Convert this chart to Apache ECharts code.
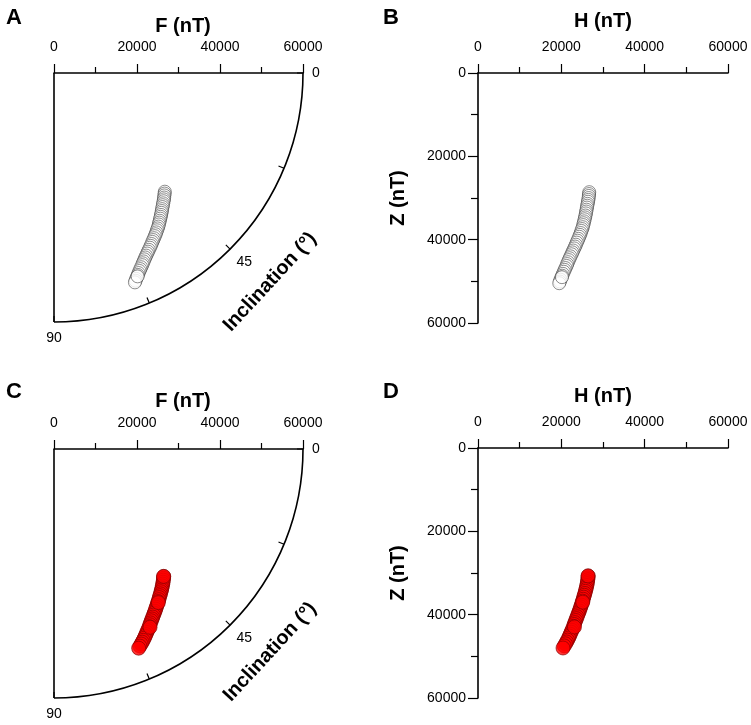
<!DOCTYPE html>
<html>
<head>
<meta charset="utf-8">
<script src="https://cdn.jsdelivr.net/npm/echarts@6/dist/echarts.min.js"></script>
<style>
  html, body { margin: 0; padding: 0; background: #fff; }
  #fieldChart { width: 751px; height: 725px; }
</style>
</head>
<body>
<div id="fieldChart"></div>
<script>
// H / Z components (nT), upper panels (white markers)
var hWhite = [26700, 26650, 26600, 26550, 26480, 26420, 26300, 26230, 26150, 26050, 25980, 25900, 25800, 25700, 25600, 25480, 25370, 25260, 25150, 24980, 24820, 24650, 24480, 24300, 24100, 23900, 23700, 23500, 23300, 23100, 22850, 22650, 22450, 22200, 22000, 21800, 21600, 21400, 21250, 21000, 20800, 20600, 20380, 20200, 20000, 19800, 19650, 19500, 20150];
var zWhite = [28600, 29050, 29500, 30000, 30450, 30900, 31400, 31850, 32300, 32800, 33250, 33700, 34200, 34650, 35100, 35600, 36050, 36500, 37000, 37450, 37900, 38400, 38850, 39300, 39800, 40250, 40700, 41200, 41650, 42100, 42600, 43050, 43500, 44000, 44450, 44900, 45400, 45850, 46300, 46800, 47250, 47700, 48200, 48650, 49100, 49600, 50050, 50450, 49000];
// lower panels (red markers)
var hRed = [26450, 26400, 26350, 26280, 26200, 26120, 26000, 25900, 25780, 25650, 25520, 25380, 25250, 25100, 24950, 24800, 24650, 24500, 24330, 24150, 23980, 23800, 23620, 23450, 23250, 23100, 22950, 22750, 22550, 22350, 22150, 21950, 21750, 21500, 21250, 21000, 20700, 20400, 23150, 25150, 26400];
var zRed = [30700, 31150, 31600, 32100, 32550, 33000, 33500, 33950, 34400, 34900, 35350, 35800, 36300, 36750, 37200, 37700, 38150, 38600, 39100, 39550, 40000, 40500, 40950, 41400, 41900, 42350, 42800, 43300, 43750, 44200, 44700, 45150, 45600, 46100, 46550, 47000, 47500, 48000, 42950, 37000, 30700];

var fieldMax = 60000;
var fieldStep = 20000;
var inclMax = 90;
var inclStep = 22.5;
var panelLetters = ["A", "B", "C", "D"];

// F / inclination pairs for the polar panels: [F, I]
function toPolar(h, z) {
  return h.map(function (v, i) {
    return [Math.sqrt(v * v + z[i] * z[i]), Math.atan2(z[i], v) * 180 / Math.PI];
  });
}
function toXY(h, z) {
  return h.map(function (v, i) { return [v, z[i]]; });
}

var font = "Liberation Sans";
var whiteMarker = { color: "#fff", borderColor: "#333", borderWidth: 0.7 };
var redMarker = { color: "#ff0000", borderColor: "#7a0000", borderWidth: 0.8 };
var plain = function (v) { return String(v); };

function angleAxis(idx) {
  return {
    polarIndex: idx,
    type: "value",
    min: 0,
    max: inclMax,
    interval: inclStep,
    startAngle: 0,
    endAngle: -90,
    clockwise: true,
    axisLine: { lineStyle: { color: "#000", width: 1.6 } },
    axisTick: { inside: true, length: 6, lineStyle: { color: "#000", width: 1.2 } },
    axisLabel: {
      margin: 9,
      color: "#000",
      fontFamily: font,
      fontSize: 14,
      formatter: function (v) { return v % 45 === 0 ? String(v) : ""; }
    },
    // only the 90 deg radial line is drawn (left border of the sector)
    splitLine: { show: true, lineStyle: { width: 1.6, color: ["rgba(0,0,0,0)", "rgba(0,0,0,0)", "rgba(0,0,0,0)", "rgba(0,0,0,0)", "#000"] } }
  };
}
function radiusAxis(idx) {
  return {
    polarIndex: idx,
    type: "value",
    min: 0,
    max: fieldMax,
    interval: fieldStep,
    axisLine: { lineStyle: { color: "#000", width: 1.6 } },
    axisTick: { length: 9, lineStyle: { color: "#000", width: 1.2 } },
    minorTick: { show: true, splitNumber: 2, length: 6, lineStyle: { color: "#000", width: 1.2 } },
    axisLabel: { margin: 19, color: "#000", fontFamily: font, fontSize: 14, formatter: plain },
    splitLine: { show: false }
  };
}
function cartX(idx) {
  return {
    gridIndex: idx,
    type: "value",
    position: "top",
    min: 0,
    max: fieldMax,
    interval: fieldStep,
    name: "H (nT)",
    nameLocation: "middle",
    nameGap: 42,
    nameTextStyle: { fontFamily: font, fontSize: 20, fontWeight: "bold", color: "#000" },
    axisLine: { lineStyle: { color: "#000", width: 1.6 } },
    axisTick: { length: 9, lineStyle: { color: "#000", width: 1.2 } },
    minorTick: { show: true, splitNumber: 2, length: 6, lineStyle: { color: "#000", width: 1.2 } },
    axisLabel: { margin: 19, color: "#000", fontFamily: font, fontSize: 14, formatter: plain },
    splitLine: { show: false }
  };
}
function cartY(idx) {
  return {
    gridIndex: idx,
    type: "value",
    inverse: true,
    min: 0,
    max: fieldMax,
    interval: fieldStep,
    name: "Z (nT)",
    nameLocation: "middle",
    nameGap: 70,
    nameTextStyle: { fontFamily: font, fontSize: 20, fontWeight: "bold", color: "#000" },
    axisLine: { lineStyle: { color: "#000", width: 1.6 } },
    axisTick: { length: 10, lineStyle: { color: "#000", width: 1.2 } },
    minorTick: { show: true, splitNumber: 2, length: 7, lineStyle: { color: "#000", width: 1.2 } },
    axisLabel: { margin: 12, color: "#000", fontFamily: font, fontSize: 14, formatter: plain },
    splitLine: { show: false }
  };
}

var option = {
  animation: false,
  backgroundColor: "#fff",
  title: [
    { text: panelLetters[0], left: 1, top: 2 },
    { text: panelLetters[1], left: 378, top: 2 },
    { text: panelLetters[2], left: 1, top: 376 },
    { text: panelLetters[3], left: 378, top: 376 },
    { text: "F (nT)", left: 178, top: 11, textAlign: "center" },
    { text: "F (nT)", left: 178, top: 386, textAlign: "center" }
  ].map(function (t, i) {
    t.textStyle = { fontFamily: font, fontWeight: "bold", fontSize: i < 4 ? 22 : 20, color: "#000" };
    return t;
  }),
  polar: [
    { center: [54, 73], radius: 249 },
    { center: [54, 449], radius: 249 }
  ],
  angleAxis: [angleAxis(0), angleAxis(1)],
  radiusAxis: [radiusAxis(0), radiusAxis(1)],
  grid: [
    { left: 478, top: 73, width: 250, height: 250 },
    { left: 478, top: 448, width: 250, height: 250 }
  ],
  xAxis: [cartX(0), cartX(1)],
  yAxis: [cartY(0), cartY(1)],
  graphic: [
    { type: "text", x: 270, y: 282, rotation: Math.PI / 4 * 1.05, style: { text: "Inclination (°)", font: "bold 20px " + font, fill: "#000", align: "center", verticalAlign: "middle" } },
    { type: "text", x: 270, y: 652, rotation: Math.PI / 4 * 1.05, style: { text: "Inclination (°)", font: "bold 20px " + font, fill: "#000", align: "center", verticalAlign: "middle" } }
  ],
  series: [
    { type: "scatter", coordinateSystem: "polar", polarIndex: 0, symbolSize: 13, itemStyle: whiteMarker, data: toPolar(hWhite, zWhite) },
    { type: "scatter", xAxisIndex: 0, yAxisIndex: 0, symbolSize: 13, itemStyle: whiteMarker, data: toXY(hWhite, zWhite) },
    { type: "scatter", coordinateSystem: "polar", polarIndex: 1, symbolSize: 14, itemStyle: redMarker, data: toPolar(hRed, zRed) },
    { type: "scatter", xAxisIndex: 1, yAxisIndex: 1, symbolSize: 14, itemStyle: redMarker, data: toXY(hRed, zRed) }
  ]
};

var chart = echarts.init(document.getElementById("fieldChart"));
chart.setOption(option);
</script>
</body>
</html>
